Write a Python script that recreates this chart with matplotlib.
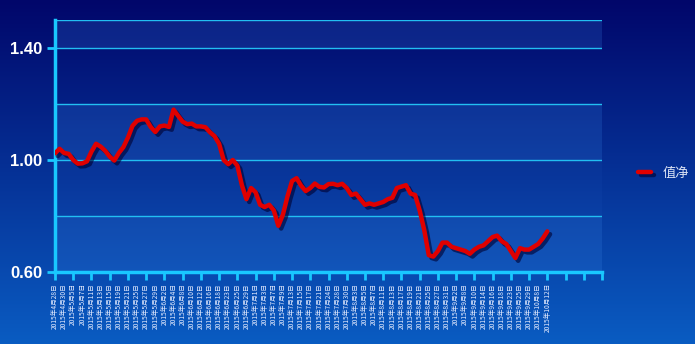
import numpy as np
import matplotlib
matplotlib.use("Agg")
import matplotlib.pyplot as plt
import matplotlib.patheffects as pe
from matplotlib.colors import LinearSegmentedColormap

plt.rcParams['font.family'] = ['Liberation Sans', 'Noto Sans CJK SC', 'DejaVu Sans']

# labelled dates (every other point on the axis)
label_dates = [
    '2015年4月28日', '2015年4月30日', '2015年5月5日', '2015年5月7日', '2015年5月11日',
    '2015年5月13日', '2015年5月15日', '2015年5月19日', '2015年5月21日', '2015年5月25日',
    '2015年5月27日', '2015年5月29日', '2015年6月2日', '2015年6月4日', '2015年6月8日',
    '2015年6月10日', '2015年6月12日', '2015年6月16日', '2015年6月18日', '2015年6月23日',
    '2015年6月25日', '2015年6月29日', '2015年7月1日', '2015年7月3日', '2015年7月7日',
    '2015年7月9日', '2015年7月13日', '2015年7月15日', '2015年7月17日', '2015年7月21日',
    '2015年7月24日', '2015年7月28日', '2015年7月30日', '2015年8月3日', '2015年8月5日',
    '2015年8月7日', '2015年8月11日', '2015年8月13日', '2015年8月17日', '2015年8月19日',
    '2015年8月21日', '2015年8月25日', '2015年8月27日', '2015年8月31日', '2015年9月2日',
    '2015年9月8日', '2015年9月10日', '2015年9月14日', '2015年9月16日', '2015年9月18日',
    '2015年9月23日', '2015年9月25日', '2015年9月29日', '2015年10月8日', '2015年10月12日',
]

# net value, one per trading day
nav = [
    1.024, 1.040, 1.025, 1.022, 1.000, 0.987, 0.988, 0.995, 1.030, 1.058,
    1.048, 1.033, 1.012, 0.998, 1.025, 1.046, 1.080, 1.122, 1.140, 1.145,
    1.145, 1.118, 1.100, 1.120, 1.123, 1.118, 1.180, 1.158, 1.137, 1.128,
    1.130, 1.120, 1.120, 1.117, 1.099, 1.085, 1.058, 1.000, 0.985, 1.000,
    0.980, 0.910, 0.860, 0.900, 0.885, 0.840, 0.832, 0.840, 0.820, 0.765,
    0.805, 0.870, 0.925, 0.935, 0.908, 0.889, 0.900, 0.916, 0.904, 0.902,
    0.914, 0.915, 0.910, 0.915, 0.900, 0.875, 0.880, 0.860, 0.840, 0.845,
    0.840, 0.845, 0.850, 0.860, 0.865, 0.900, 0.905, 0.910, 0.880, 0.875,
    0.820, 0.750, 0.660, 0.655, 0.675, 0.705, 0.705, 0.690, 0.685, 0.680,
    0.675, 0.665, 0.680, 0.690, 0.695, 0.710, 0.725, 0.730, 0.710, 0.700,
    0.675, 0.650, 0.685, 0.680, 0.680, 0.690, 0.700, 0.720, 0.745,
]

n_slots = 120  # axis keeps going past the last point

fig = plt.figure(figsize=(6.95, 3.44), dpi=100)

# gradient background
bg = fig.add_axes([0, 0, 1, 1], zorder=-10)
cmap = LinearSegmentedColormap.from_list('bg', ['#01066a', '#0a5cc2'])
bg.imshow(np.linspace(0, 1, 256).reshape(-1, 1), aspect='auto', cmap=cmap,
          extent=[0, 1, 0, 1])
bg.set_axis_off()

ax = fig.add_axes([55 / 695, 1 - 272 / 344, 547 / 695, 252 / 344])
ax.patch.set_alpha(0)

# alternating bands
for lo, hi, a in [(1.4, 1.5, 0.20), (1.0, 1.2, 0.20), (0.8, 1.0, 0.06), (0.6, 0.8, 0.20)]:
    ax.axhspan(lo, hi, color='#3a86e6', alpha=a, lw=0, zorder=0)

for g in [0.8, 1.0, 1.2, 1.4, 1.5]:
    ax.axhline(g, color='#22bff2', lw=1, zorder=1)

x = np.arange(len(nav))
line, = ax.plot(x, nav, color='#e00000', lw=3.2, solid_capstyle='round',
                solid_joinstyle='round', zorder=3, label='值净')
line.set_path_effects([pe.SimpleLineShadow(offset=(2, -2), shadow_color='#000030', alpha=0.6),
                       pe.Normal()])

ax.set_xlim(0, n_slots)
ax.set_ylim(0.6, 1.5)

ax.set_yticks([0.6, 1.0, 1.4])
ax.set_yticklabels(['0.60', '1.00', '1.40'])
ax.set_xticks(np.arange(0, n_slots + 1, 4))
ax.set_xticklabels([])
ax.tick_params(axis='y', colors='#19c8ff', length=6, width=2, labelcolor='white',
               labelsize=12, pad=3)
ax.tick_params(axis='x', colors='#19c8ff', length=6, width=2)
for lab in ax.get_yticklabels():
    lab.set_fontweight('bold')

for s in ['top', 'right']:
    ax.spines[s].set_visible(False)
for s in ['left', 'bottom']:
    ax.spines[s].set_color('#19c8ff')
    ax.spines[s].set_linewidth(2.5)

# rotated date labels, every other point, just below the ticks
for k, d in enumerate(label_dates):
    ax.text(2 * k, 0.6 - 0.04, d, rotation=90, ha='center', va='top', fontsize=4.8,
            color='#e6ecff', family=['Noto Sans CJK SC', 'DejaVu Sans'])

fig.legend(handles=[line], labels=['值净'], loc='center left',
           bbox_to_anchor=(626 / 695, 1 - 173 / 344), frameon=False,
           handlelength=1.0, handletextpad=0.9, labelcolor='#dde4f5',
           prop={'family': ['Noto Sans CJK SC', 'DejaVu Sans'], 'size': 9.5})

fig.savefig('out.png', dpi=100)
